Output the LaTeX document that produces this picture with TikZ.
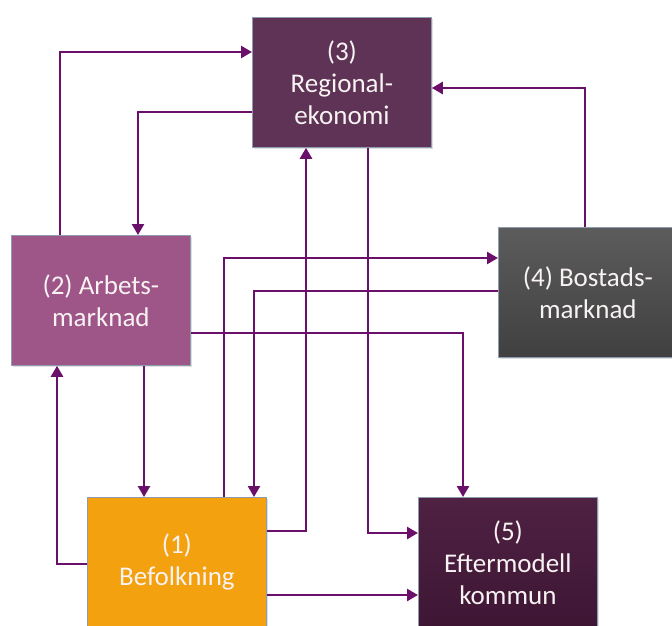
\documentclass[tikz,border=0pt]{standalone}
\usepackage{fontspec}
\setmainfont{Carlito}
\usetikzlibrary{arrows.meta,shadows}
\definecolor{arrcol}{HTML}{6A106A}
\definecolor{c3}{HTML}{5E3355}
\definecolor{c2}{HTML}{9E5588}
\definecolor{c1}{HTML}{F3A10E}
\definecolor{c5top}{HTML}{4F2143}
\definecolor{c5bot}{HTML}{3E1634}
\definecolor{c4top}{HTML}{5C5C5C}
\definecolor{c4bot}{HTML}{404040}
\definecolor{bordercol}{HTML}{8E9CB0}
\definecolor{txtcol}{HTML}{F8F2F2}
\tikzset{
  box/.style={rectangle, anchor=north west, minimum width=179pt, minimum height=130pt,
    draw=bordercol, line width=0.8pt, text=txtcol, align=center, inner sep=0pt,
    font=\fontsize{27}{32}\selectfont,
    drop shadow={opacity=0.25, shadow xshift=2pt, shadow yshift=-2pt}},
  arr/.style={draw=arrcol, line width=2.5pt, -{Triangle[length=11pt,width=12pt]}},
}
\begin{document}
\begin{tikzpicture}[x=1pt,y=-1pt]
\useasboundingbox (0,0) rectangle (672,626);
\node[box, fill=c3] (b3) at (252,17) {(3)\\Regional-\\ekonomi};
\node[box, fill=c2] (b2) at (11,235) {(2) Arbets-\\marknad};
\node[box, top color=c4top, bottom color=c4bot] (b4) at (498,227) {(4) Bostads-\\marknad};
\node[box, fill=c1] (b1) at (87,497) {(1)\\Befolkning};
\node[box, top color=c5top, bottom color=c5bot] (b5) at (418,497) {(5)\\Eftermodell\\kommun};
% connectors
\draw[arr] ([xshift=49pt]b2.north west) |- ([yshift=-35pt]b3.north west);
\draw[arr] ([yshift=-95pt]b3.north west) -| ([xshift=127pt]b2.north west);
\draw[arr] ([xshift=87pt]b4.north west) |- ([yshift=-71pt]b3.north east);
\draw[arr] ([yshift=-34pt]b1.north east) -| ([xshift=54pt]b3.south west);
\draw[arr] ([xshift=116pt]b3.south west) |- ([yshift=-36pt]b5.north west);
\draw[arr] ([xshift=137pt]b1.north west) |- ([yshift=-31pt]b4.north west);
\draw[arr] ([yshift=-64pt]b4.north west) -| ([xshift=167pt]b1.north west);
\draw[arr] ([yshift=-98pt]b2.north east) -| ([xshift=45pt]b5.north west);
\draw[arr] ([xshift=133pt]b2.south west) -- ([xshift=57pt]b1.north west);
\draw[arr] ([yshift=-67pt]b1.north west) -| ([xshift=46pt]b2.south west);
\draw[arr] ([yshift=-98pt]b1.north east) -- ([yshift=-98pt]b5.north west);
\end{tikzpicture}
\end{document}
